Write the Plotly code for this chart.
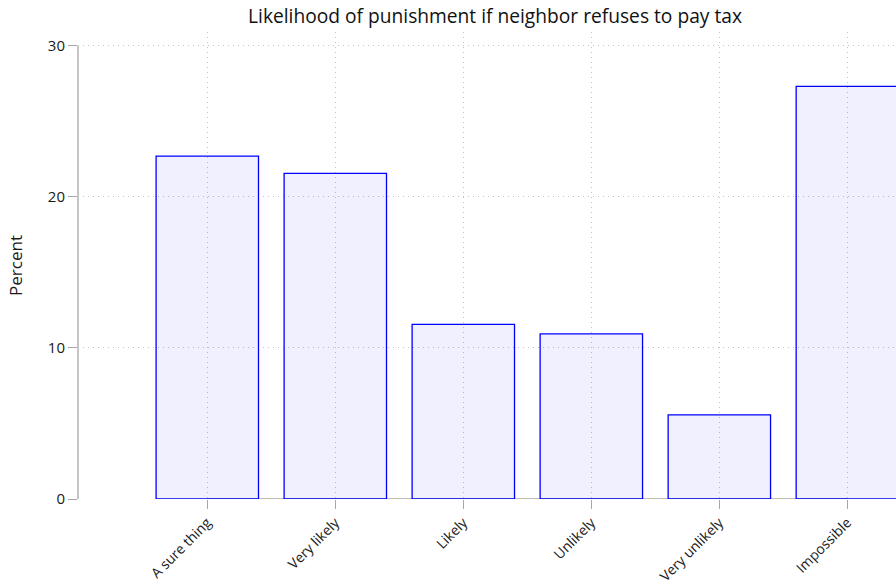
import plotly.graph_objects as go

categories = ["A sure thing", "Very likely", "Likely", "Unlikely", "Very unlikely", "Impossible"]
percent = [22.69, 21.55, 11.55, 10.93, 5.57, 27.3]
y_ticks = [0, 10, 20, 30]
title_text = "Likelihood of punishment if neighbor refuses to pay tax"

FONT = "Open Sans"
AXIS_GREY = "#a6a6a6"
GRID = "#c4c4c4"

fig = go.Figure()
fig.add_trace(go.Bar(
    x=categories, y=percent, width=0.8,
    marker=dict(color="rgba(0,0,255,0.06)", line=dict(color="#0000ff", width=1.3)),
    showlegend=False, hoverinfo="x+y",
))

# range-frame style axis lines
fig.add_shape(type="line", xref="paper", yref="y", x0=0, x1=0,
              y0=y_ticks[0], y1=y_ticks[-1], line=dict(color=AXIS_GREY, width=1.3), layer="below")
fig.add_shape(type="line", xref="x", yref="y", x0=categories[0], x1=categories[-1],
              y0=0, y1=0, line=dict(color=AXIS_GREY, width=1.3), layer="below")

fig.update_layout(
    width=896, height=586,
    margin=dict(l=78, r=0, t=32, b=87),
    paper_bgcolor="white", plot_bgcolor="white",
    font=dict(family=FONT, size=14, color="#1a1a1a"),
    title=dict(text=title_text, x=495/896, xref="container", xanchor="center",
               y=1 - 16/586, yanchor="middle", font=dict(size=19.2, color="#111111")),
    bargap=0.2,
)
fig.update_xaxes(
    type="category", range=[-1.01, 5.38], automargin=False,
    showline=False, zeroline=False,
    showgrid=True, gridcolor=GRID, griddash="1px,4px", gridwidth=1,
    ticks="outside", ticklen=9, tickcolor=AXIS_GREY, tickwidth=1.3,
    tickangle=-45, tickfont=dict(size=14), ticklabelstandoff=0,
)
fig.update_yaxes(
    range=[0, 30.9], tickvals=y_ticks, ticktext=[str(v) for v in y_ticks],
    automargin=False,
    showline=False, zeroline=False,
    showgrid=True, gridcolor=GRID, griddash="1px,4px", gridwidth=1,
    ticks="outside", ticklen=9, tickcolor=AXIS_GREY, tickwidth=1.3,
    tickfont=dict(size=15),
    title=dict(text="Percent", font=dict(size=17), standoff=20),
)

fig.write_html("out.html")
